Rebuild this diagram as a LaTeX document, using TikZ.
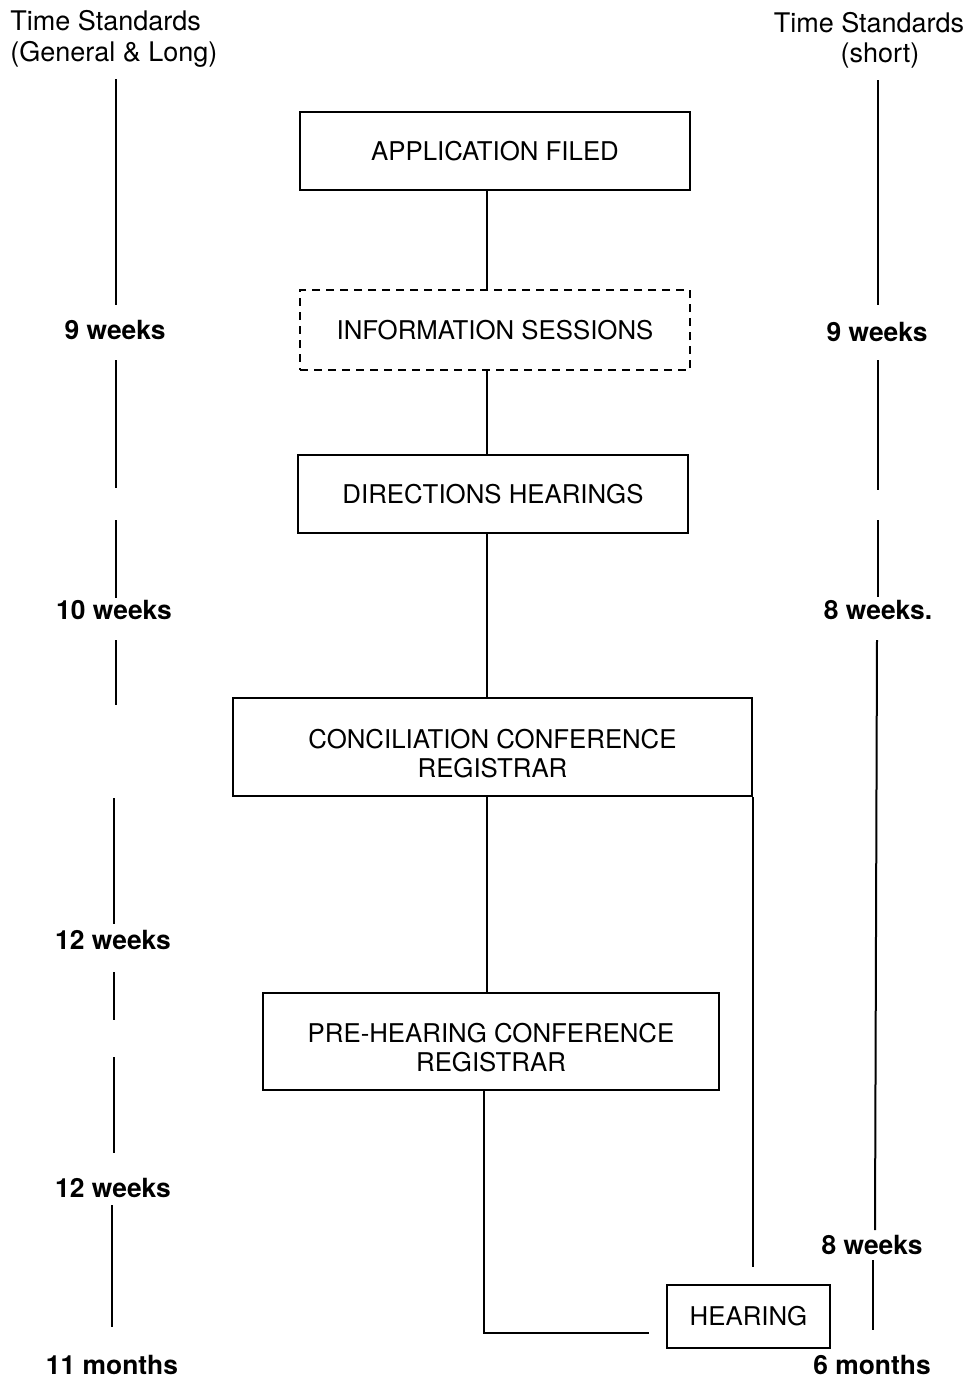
\documentclass[tikz,border=0pt]{standalone}
\usepackage{fontspec}
\setmainfont{TeX Gyre Heros}
\newcommand{\topstrut}{\rule{0pt}{16pt}}
\begin{document}
\begin{tikzpicture}[x=0.5pt,y=-0.5pt,
  stage/.style={draw, line width=1.1pt, align=center, inner sep=0pt,
    font=\fontsize{12.9}{14.5}\selectfont},
  period/.style={anchor=base, font=\bfseries\fontsize{13.2}{16}\selectfont},
  header/.style={inner sep=0pt, font=\fontsize{13.5}{16}\selectfont},
  rule/.style={line width=1pt}]
\useasboundingbox (0,0) rectangle (969,1383);

% Headers
% Time standards on both sides
  \node[header, anchor=base west] (lhead) at (10,30) {Time Standards};
  \node[header, anchor=base west] (lsub) at (10,61) {(General \& Long)};
  \node[header, anchor=base] (rhead) at (869,32) {Time Standards};
  \node[header, anchor=base] (rsub) at (880,62) {(short)};

% Left column
% General and long time line
  \draw[rule] (116,79) -- (116,305);
  \draw[rule] (116,360) -- (116,488);
  \draw[rule] (116,520) -- (116,598);
  \draw[rule] (116,640) -- (116,705);
  \draw[rule] (114,798) -- (114,924);
  \draw[rule] (114,972) -- (114,1020);
  \draw[rule] (114,1057) -- (114,1153);
  \draw[rule] (112,1205) -- (112,1327);

  \node[period] (l9) at (115,339) {9 weeks};
  \node[period] (l10) at (114,619) {10 weeks};
  \node[period] (l12a) at (113,949) {12 weeks};
  \node[period] (l12b) at (113,1197) {12 weeks};
  \node[period] (l11) at (112,1374) {11 months};

% Right column
% Short time line
  \draw[rule] (878,80) -- (878,305);
  \draw[rule] (878,360) -- (878,490);
  \draw[rule] (878,520) -- (878,597);
  \draw[rule] (877,640) -- (875,1230);
  \draw[rule] (873,1260) -- (873,1330);

  \node[period] (r9) at (877,341) {9 weeks};
  \node[period] (r8a) at (878,619) {8 weeks.};
  \node[period] (r8b) at (872,1254) {8 weeks};
  \node[period] (r6) at (872,1374) {6 months};

% Middle
% Stages of the application
  \node[stage, minimum width=195pt, minimum height=39pt] (app) at (495,151) {APPLICATION FILED};
  \node[stage, dash pattern=on 4pt off 3pt, minimum width=195pt, minimum height=40pt] (info) at (495,330) {INFORMATION SESSIONS};
  \node[stage, minimum width=195pt, minimum height=39pt] (dir) at (493,494) {DIRECTIONS HEARINGS};
  \node[stage, minimum width=259.5pt, minimum height=49pt] (conc) at (492.5,747) {\topstrut CONCILIATION CONFERENCE\\REGISTRAR};
  \node[stage, minimum width=228pt, minimum height=48.5pt] (pre) at (491,1041.5) {\topstrut PRE-HEARING CONFERENCE\\REGISTRAR};
  \node[stage, minimum width=81.5pt, minimum height=31.5pt] (hear) at (748.5,1316.5) {HEARING};

% Connectors
  \coordinate (spine) at (487,0);
  \coordinate (drop) at (484,0);
  \draw[rule] (app.south -| spine) -- (info.north -| spine);
  \draw[rule] (info.south -| spine) -- (dir.north -| spine);
  \draw[rule] (dir.south -| spine) -- (conc.north -| spine);
  \draw[rule] (conc.south -| spine) -- (pre.north -| spine);
  \draw[rule, shorten >=8.5pt] (pre.south -| drop) |- ([yshift=-8pt]hear.west);
  \draw[rule, shorten >=8.5pt] (conc.south east) -- (conc.south east |- hear.north);
\end{tikzpicture}
\end{document}
